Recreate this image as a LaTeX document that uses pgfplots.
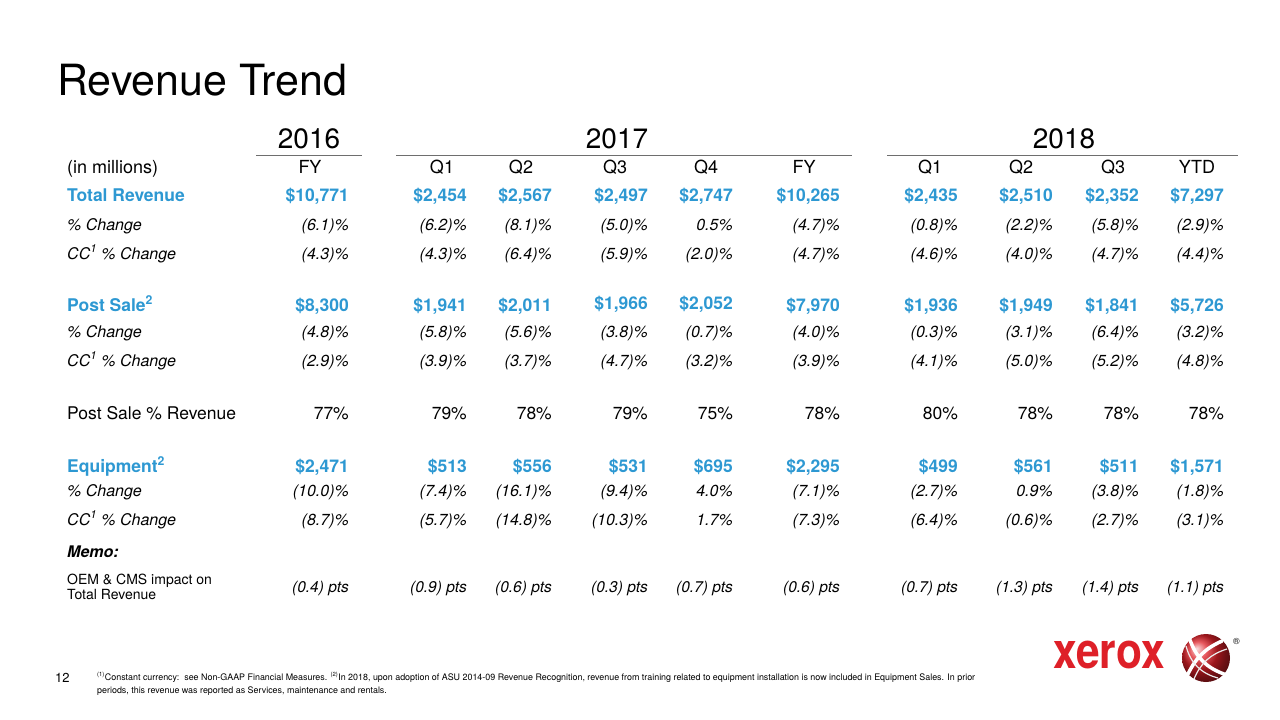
\documentclass[border=0pt]{standalone}
\usepackage{pgfplots}
\pgfplotsset{compat=1.18}
\usepackage{fontspec}
\setmainfont{TeX Gyre Heros}
\definecolor{xblue}{RGB}{45,152,210}
\definecolor{xred}{RGB}{222,32,40}
\definecolor{xline}{RGB}{110,110,110}
\tikzset{
  bv/.style={anchor=base east,inner sep=0pt,text=xblue,font=\fontsize{17.5}{20}\selectfont\bfseries},
  iv/.style={anchor=base east,inner sep=0pt,font=\fontsize{16}{19}\selectfont\itshape},
  rv/.style={anchor=base east,inner sep=0pt,font=\fontsize{17.5}{20}\selectfont},
  mv/.style={anchor=base east,inner sep=0pt,font=\fontsize{15.5}{18}\selectfont\itshape},
  hd/.style={anchor=base,inner sep=0pt,font=\fontsize{18}{20}\selectfont},
  yr/.style={anchor=base,inner sep=0pt,font=\fontsize{28}{30}\selectfont},
  lb/.style={anchor=base west,inner sep=0pt},
}
% value cell: style, right x, baseline y, text
\newcommand\V[4]{\node[#1] at (axis cs:#2,#3) {#4};}
\newcommand\RL[3]{\node[lb,#1] at (axis cs:67,#2) {#3};}
\begin{document}
\begin{tikzpicture}
\begin{axis}[
  width=1280pt, height=720pt, scale only axis,
  xmin=0, xmax=1280, ymin=0, ymax=720, y dir=reverse,
  hide axis, clip=false,
]
\addplot[draw=none, mark=none] coordinates {(0,0) (1280,720)};
% title
\node[lb,font=\fontsize{43}{46}\selectfont] at (axis cs:57,95) {Revenue Trend};
% years
\node[yr] at (axis cs:309,148) {2016};
\node[yr] at (axis cs:617,148) {2017};
\node[yr] at (axis cs:1064,148) {2018};
\draw[xline, line width=1pt] (axis cs:256,155) -- (axis cs:362,155);
\draw[xline, line width=1pt] (axis cs:396,155) -- (axis cs:852,155);
\draw[xline, line width=1pt] (axis cs:887,155) -- (axis cs:1238,155);
% headers
\RL{font=\fontsize{18}{20}\selectfont}{173}{(in millions)}
\V{hd}{310}{173}{FY}
\V{hd}{442}{173}{Q1}
\V{hd}{521}{173}{Q2}
\V{hd}{615}{173}{Q3}
\V{hd}{706}{173}{Q4}
\V{hd}{804}{173}{FY}
\V{hd}{930}{173}{Q1}
\V{hd}{1021}{173}{Q2}
\V{hd}{1113}{173}{Q3}
\V{hd}{1197}{173}{YTD}
% row labels
\RL{text=xblue,font=\fontsize{17.5}{20}\selectfont\bfseries}{201}{Total Revenue}
\RL{font=\fontsize{16}{19}\selectfont\itshape}{230}{\% Change}
\RL{font=\fontsize{16}{19}\selectfont\itshape}{259}{CC\textsuperscript{1} \% Change}
\RL{text=xblue,font=\fontsize{17.5}{20}\selectfont\bfseries}{311}{Post Sale\textsuperscript{2}}
\RL{font=\fontsize{16}{19}\selectfont\itshape}{337}{\% Change}
\RL{font=\fontsize{16}{19}\selectfont\itshape}{366}{CC\textsuperscript{1} \% Change}
\RL{font=\fontsize{17.5}{20}\selectfont}{419}{Post Sale \% Revenue}
\RL{text=xblue,font=\fontsize{17.5}{20}\selectfont\bfseries}{472}{Equipment\textsuperscript{2}}
\RL{font=\fontsize{16}{19}\selectfont\itshape}{496}{\% Change}
\RL{font=\fontsize{16}{19}\selectfont\itshape}{525}{CC\textsuperscript{1} \% Change}
\RL{font=\fontsize{16}{19}\selectfont\bfseries\itshape}{557}{Memo:}
\RL{font=\fontsize{14}{16}\selectfont}{584}{OEM \& CMS impact on}
\RL{font=\fontsize{14}{16}\selectfont}{599}{Total Revenue}
% Total Revenue
\V{bv}{349}{201}{\$10,771}
\V{bv}{467}{201}{\$2,454}
\V{bv}{552}{201}{\$2,567}
\V{bv}{648}{201}{\$2,497}
\V{bv}{733}{201}{\$2,747}
\V{bv}{840}{201}{\$10,265}
\V{bv}{958}{201}{\$2,435}
\V{bv}{1053}{201}{\$2,510}
\V{bv}{1139}{201}{\$2,352}
\V{bv}{1224}{201}{\$7,297}
% % Change
\V{iv}{349}{230}{(6.1)\%}
\V{iv}{467}{230}{(6.2)\%}
\V{iv}{552}{230}{(8.1)\%}
\V{iv}{648}{230}{(5.0)\%}
\V{iv}{733}{230}{0.5\%}
\V{iv}{840}{230}{(4.7)\%}
\V{iv}{958}{230}{(0.8)\%}
\V{iv}{1053}{230}{(2.2)\%}
\V{iv}{1139}{230}{(5.8)\%}
\V{iv}{1224}{230}{(2.9)\%}
% CC
\V{iv}{349}{259}{(4.3)\%}
\V{iv}{467}{259}{(4.3)\%}
\V{iv}{552}{259}{(6.4)\%}
\V{iv}{648}{259}{(5.9)\%}
\V{iv}{733}{259}{(2.0)\%}
\V{iv}{840}{259}{(4.7)\%}
\V{iv}{958}{259}{(4.6)\%}
\V{iv}{1053}{259}{(4.0)\%}
\V{iv}{1139}{259}{(4.7)\%}
\V{iv}{1224}{259}{(4.4)\%}
% Post Sale
\V{bv}{349}{311}{\$8,300}
\V{bv}{467}{311}{\$1,941}
\V{bv}{552}{311}{\$2,011}
\V{bv}{648}{309}{\$1,966}
\V{bv}{733}{309}{\$2,052}
\V{bv}{840}{311}{\$7,970}
\V{bv}{958}{311}{\$1,936}
\V{bv}{1053}{311}{\$1,949}
\V{bv}{1139}{311}{\$1,841}
\V{bv}{1224}{311}{\$5,726}
\V{iv}{349}{337}{(4.8)\%}
\V{iv}{467}{337}{(5.8)\%}
\V{iv}{552}{337}{(5.6)\%}
\V{iv}{648}{337}{(3.8)\%}
\V{iv}{733}{337}{(0.7)\%}
\V{iv}{840}{337}{(4.0)\%}
\V{iv}{958}{337}{(0.3)\%}
\V{iv}{1053}{337}{(3.1)\%}
\V{iv}{1139}{337}{(6.4)\%}
\V{iv}{1224}{337}{(3.2)\%}
\V{iv}{349}{366}{(2.9)\%}
\V{iv}{467}{366}{(3.9)\%}
\V{iv}{552}{366}{(3.7)\%}
\V{iv}{648}{366}{(4.7)\%}
\V{iv}{733}{366}{(3.2)\%}
\V{iv}{840}{366}{(3.9)\%}
\V{iv}{958}{366}{(4.1)\%}
\V{iv}{1053}{366}{(5.0)\%}
\V{iv}{1139}{366}{(5.2)\%}
\V{iv}{1224}{366}{(4.8)\%}
% Post Sale % Revenue
\V{rv}{349}{419}{77\%}
\V{rv}{467}{419}{79\%}
\V{rv}{552}{419}{78\%}
\V{rv}{648}{419}{79\%}
\V{rv}{733}{419}{75\%}
\V{rv}{840}{419}{78\%}
\V{rv}{958}{419}{80\%}
\V{rv}{1053}{419}{78\%}
\V{rv}{1139}{419}{78\%}
\V{rv}{1224}{419}{78\%}
% Equipment
\V{bv}{349}{472}{\$2,471}
\V{bv}{467}{472}{\$513}
\V{bv}{552}{472}{\$556}
\V{bv}{648}{472}{\$531}
\V{bv}{733}{472}{\$695}
\V{bv}{840}{472}{\$2,295}
\V{bv}{958}{472}{\$499}
\V{bv}{1053}{472}{\$561}
\V{bv}{1139}{472}{\$511}
\V{bv}{1224}{472}{\$1,571}
\V{iv}{349}{496}{(10.0)\%}
\V{iv}{467}{496}{(7.4)\%}
\V{iv}{552}{496}{(16.1)\%}
\V{iv}{648}{496}{(9.4)\%}
\V{iv}{733}{496}{4.0\%}
\V{iv}{840}{496}{(7.1)\%}
\V{iv}{958}{496}{(2.7)\%}
\V{iv}{1053}{496}{0.9\%}
\V{iv}{1139}{496}{(3.8)\%}
\V{iv}{1224}{496}{(1.8)\%}
\V{iv}{349}{525}{(8.7)\%}
\V{iv}{467}{525}{(5.7)\%}
\V{iv}{552}{525}{(14.8)\%}
\V{iv}{648}{525}{(10.3)\%}
\V{iv}{733}{525}{1.7\%}
\V{iv}{840}{525}{(7.3)\%}
\V{iv}{958}{525}{(6.4)\%}
\V{iv}{1053}{525}{(0.6)\%}
\V{iv}{1139}{525}{(2.7)\%}
\V{iv}{1224}{525}{(3.1)\%}
% Memo values
\V{mv}{349}{592}{(0.4) pts}
\V{mv}{467}{592}{(0.9) pts}
\V{mv}{552}{592}{(0.6) pts}
\V{mv}{648}{592}{(0.3) pts}
\V{mv}{733}{592}{(0.7) pts}
\V{mv}{840}{592}{(0.6) pts}
\V{mv}{958}{592}{(0.7) pts}
\V{mv}{1053}{592}{(1.3) pts}
\V{mv}{1139}{592}{(1.4) pts}
\V{mv}{1224}{592}{(1.1) pts}
% footer
\node[lb,font=\fontsize{13}{15}\selectfont] at (axis cs:55,682) {12};
\node[lb,font=\fontsize{9}{11}\selectfont] at (axis cs:97,680) {\scalebox{0.99}[1]{\textsuperscript{(1)}Constant currency:\ \ see Non-GAAP Financial Measures. \textsuperscript{(2)}In 2018, upon adoption of ASU 2014-09 Revenue Recognition, revenue from training related to equipment installation is now included in Equipment Sales. In prior}};
\node[lb,font=\fontsize{9}{11}\selectfont] at (axis cs:97,693) {\scalebox{0.99}[1]{periods, this revenue was reported as Services, maintenance and rentals.}};
% logo
\node[lb,text=xred,font=\fontsize{50}{52}\selectfont\bfseries] at (axis cs:1053,668) {\scalebox{0.85}[1]{xerox}};
\shade[ball color=xred] (axis cs:1206,658) circle[radius=24pt];
\draw[white, line width=3.5pt, line cap=round] (axis cs:1190,640) to[bend right=25] (axis cs:1224,674);
\draw[white, line width=3.5pt, line cap=round] (axis cs:1188,674) to[bend left=20] (axis cs:1222,641);
\draw[white!85!gray, line width=1.2pt] (axis cs:1186,646) to[bend right=30] (axis cs:1218,678);
\draw[white!85!gray, line width=1.2pt] (axis cs:1194,679) to[bend left=25] (axis cs:1227,649);
\node[lb,font=\fontsize{9}{10}\selectfont] at (axis cs:1233,644) {\textregistered};
\end{axis}
\end{tikzpicture}
\end{document}
